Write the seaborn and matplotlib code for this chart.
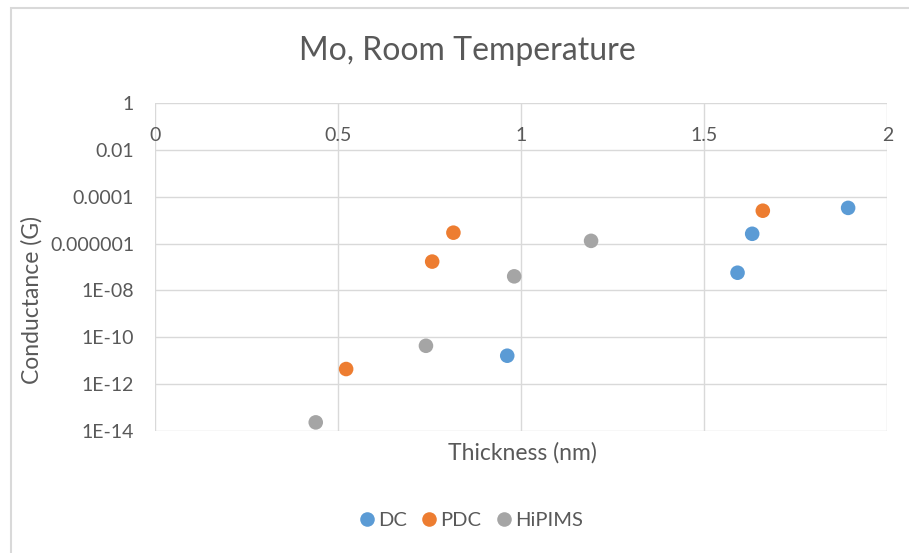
import numpy as np
import pandas as pd
import matplotlib
matplotlib.use("Agg")
import matplotlib.pyplot as plt
import seaborn as sns
from matplotlib.patches import Rectangle
from matplotlib.ticker import FixedLocator, FixedFormatter

# ---- data ----
dc_thickness = [0.962, 1.591, 1.631, 1.893]
dc_conductance = [1.66e-11, 5.7e-8, 2.6e-6, 3.3e-5]
pdc_thickness = [0.522, 0.757, 0.815, 1.660]
pdc_conductance = [4.5e-12, 1.7e-7, 2.9e-6, 2.5e-5]
hipims_thickness = [0.439, 0.740, 0.981, 1.191]
hipims_conductance = [2.4e-14, 4.4e-11, 4.0e-8, 1.3e-6]

series_names = ["DC", "PDC", "HiPIMS"]
series_colors = ["#5B9BD5", "#ED7D31", "#A5A5A5"]

x_ticks = [0, 0.5, 1, 1.5, 2]
x_tick_labels = ["0", "0.5", "1", "1.5", "2"]
y_ticks = [1, 1e-2, 1e-4, 1e-6, 1e-8, 1e-10, 1e-12, 1e-14]
y_tick_labels = ["1", "0.01", "0.0001", "0.000001", "1E-08", "1E-10", "1E-12", "1E-14"]

title = "Mo, Room Temperature"
x_label = "Thickness (nm)"
y_label = "Conductance (G)"

df = pd.concat([
    pd.DataFrame({"x": dc_thickness, "y": dc_conductance, "Method": "DC"}),
    pd.DataFrame({"x": pdc_thickness, "y": pdc_conductance, "Method": "PDC"}),
    pd.DataFrame({"x": hipims_thickness, "y": hipims_conductance, "Method": "HiPIMS"}),
], ignore_index=True)

sns.set_theme(style="white")
plt.rcParams["font.family"] = ["Lato", "DejaVu Sans"]
text_color = "#595959"
grid_color = "#D9D9D9"

W, H = 909, 553
fig = plt.figure(figsize=(W / 100, H / 100), dpi=100)
fig.patch.set_facecolor("white")

# outer chart border (only left/top visible)
fig.patches.append(Rectangle((11 / W, -0.5), 2.0, 1.5 - 8 / H, transform=fig.transFigure,
                             fill=False, edgecolor=grid_color, linewidth=1.5, zorder=0))

left, right = 155 / W, 887.3 / W
top, bottom = 1 - 102.7 / H, 1 - 431.3 / H
ax = fig.add_axes([left, bottom, right - left, top - bottom])

sns.scatterplot(data=df, x="x", y="y", hue="Method", hue_order=series_names,
                palette=series_colors, s=110, linewidth=0, ax=ax, zorder=3, legend=True)

ax.set_yscale("log")
ax.set_xlim(0, 2)
ax.set_ylim(1e-14, 1)
ax.yaxis.set_major_locator(FixedLocator(y_ticks))
ax.yaxis.set_major_formatter(FixedFormatter(y_tick_labels))
ax.yaxis.set_minor_locator(FixedLocator([]))
ax.xaxis.set_major_locator(FixedLocator(x_ticks))
ax.xaxis.set_major_formatter(FixedFormatter(x_tick_labels))

ax.grid(True, which="major", color=grid_color, linewidth=1.0)
ax.set_axisbelow(True)
for sp in ax.spines.values():
    sp.set_visible(False)

ax.tick_params(axis="y", length=0, pad=15, labelsize=14, labelcolor=text_color)
ax.tick_params(axis="x", length=0, top=False, bottom=False, labeltop=True, labelbottom=False,
               pad=-29.5, labelsize=14, labelcolor=text_color)

ax.set_xlabel("")
ax.set_ylabel("")
fig.text(522 / W, 1 - 453 / H, x_label, ha="center", va="center", fontsize=16.5, color=text_color)
fig.text(32 / W, 1 - 300 / H, y_label, ha="center", va="center", rotation=90,
         fontsize=16.5, color=text_color)
fig.text(467 / W, 1 - 51 / H, title, ha="center", va="center", fontsize=23, color=text_color)

handles, labels = ax.get_legend_handles_labels()
ax.legend(handles, labels, loc="center", bbox_to_anchor=(470 / W, 1 - 520 / H),
          bbox_transform=fig.transFigure, ncol=3, frameon=False, fontsize=14.5,
          labelcolor=text_color, handletextpad=0.05, columnspacing=0.6, markerscale=1.0,
          handlelength=1.0)

fig.savefig("out.png", dpi=100, facecolor="white")
